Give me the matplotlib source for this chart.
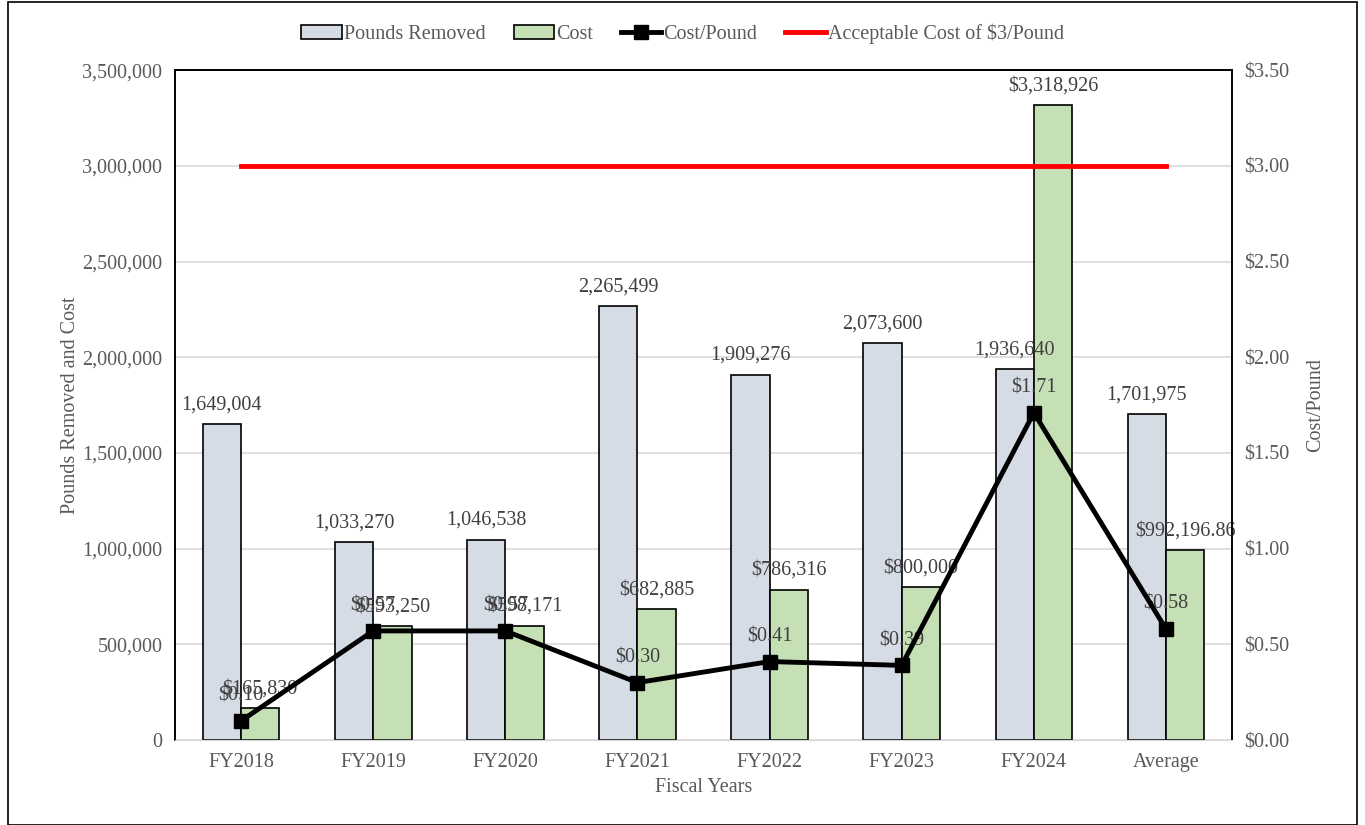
import matplotlib
matplotlib.use('Agg')
import matplotlib.pyplot as plt
import numpy as np
from matplotlib.patches import Rectangle

years = ['FY2018', 'FY2019', 'FY2020', 'FY2021', 'FY2022', 'FY2023', 'FY2024', 'Average']
pounds = [1649004, 1033270, 1046538, 2265499, 1909276, 2073600, 1936640, 1701975]
cost = [165830, 593250, 598171, 682885, 786316, 800000, 3318926, 992196.86]
cost_per_pound = [0.10, 0.57, 0.57, 0.30, 0.41, 0.39, 1.71, 0.58]
cost_labels = ['$165,830', '$593,250', '$598,171', '$682,885', '$786,316', '$800,000',
               '$3,318,926', '$992,196.86']
acceptable = [3.0] * len(years)

plt.rcParams['font.family'] = ['Liberation Serif', 'DejaVu Serif']
grey = '#595959'
fs = 14.5

fig = plt.figure(figsize=(13.65, 8.25), dpi=100)
ax = fig.add_axes([0.1282, 0.103, 0.7744, 0.812])
ax2 = ax.twinx()

x = np.arange(len(years))
w = 0.29
b1 = ax.bar(x - w / 2, pounds, w, color='#d6dce5', edgecolor='black', linewidth=1.2,
            label='Pounds Removed', zorder=2)
b2 = ax.bar(x + w / 2, cost, w, color='#c5e0b4', edgecolor='black', linewidth=1.2,
            label='Cost', zorder=2)

# data labels (they overlap in a few places, as in the original)
for xi, v in zip(x, pounds):
    ax.annotate(f'{v:,}', (xi - w / 2, v), xytext=(0, 7), textcoords='offset points',
                ha='center', va='bottom', fontsize=fs, color='#404040')
for xi, v, lab in zip(x, cost, cost_labels):
    ax.annotate(lab, (xi + w / 2, v), xytext=(0, 7), textcoords='offset points',
                ha='center', va='bottom', fontsize=fs, color='#404040')

l1, = ax2.plot(x, cost_per_pound, color='black', linewidth=3.5, marker='s', markersize=10,
               label='Cost/Pound', zorder=4)
l2, = ax2.plot(x, acceptable, color='#ff0000', linewidth=3.5,
               label='Acceptable Cost of $3/Pound', zorder=4)
for xi, v in zip(x, cost_per_pound):
    ax2.annotate(f'${v:.2f}', (xi, v), xytext=(0, 11), textcoords='offset points',
                 ha='center', va='bottom', fontsize=fs, color='#404040')

ax.set_xlim(-0.5, len(years) - 0.5)
ax.set_ylim(0, 3500000)
ax2.set_ylim(0, 3.5)
ax.set_yticks(np.arange(0, 3500001, 500000))
ax.set_yticklabels([f'{int(t):,}' for t in np.arange(0, 3500001, 500000)])
ax2.set_yticks(np.arange(0, 3.51, 0.5))
ax2.set_yticklabels([f'${t:.2f}' for t in np.arange(0, 3.51, 0.5)])
ax.set_xticks(x)
ax.set_xticklabels(years)

ax.grid(axis='y', color='#d9d9d9', linewidth=1.2, zorder=0)
ax.set_axisbelow(True)
for a in (ax, ax2):
    a.tick_params(length=0, labelsize=fs, labelcolor=grey, pad=9)
    a.spines['top'].set_color('black')
    a.spines['left'].set_color('black')
    a.spines['right'].set_color('black')
    a.spines['bottom'].set_color('#d9d9d9')
    for s in ('top', 'left', 'right'):
        a.spines[s].set_linewidth(1.2)

ax.set_xlabel('Fiscal Years', fontsize=fs, color=grey, labelpad=5)
ax.set_ylabel('Pounds Removed and Cost', fontsize=fs, color=grey, labelpad=2)
ax2.set_ylabel('Cost/Pound', fontsize=fs, color=grey, labelpad=12)

fig.legend(handles=[b1, b2, l1, l2], loc='upper center', bbox_to_anchor=(0.5, 0.993),
           ncol=4, frameon=False, fontsize=fs, labelcolor=grey, handlelength=2.0,
           handletextpad=0.1, columnspacing=1.4)

fig.patches.append(Rectangle((0.006, 0.0), 0.988, 0.997, transform=fig.transFigure,
                             fill=False, edgecolor='black', linewidth=1.2))

fig.savefig('out.png', dpi=100)
